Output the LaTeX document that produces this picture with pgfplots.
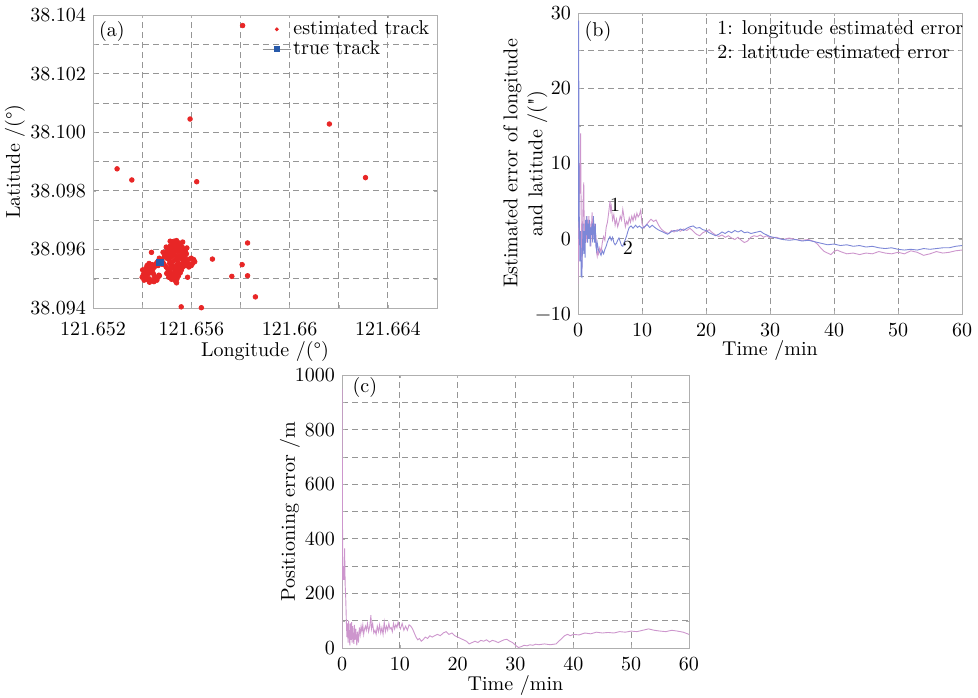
\documentclass[border=0pt]{standalone}
\usepackage{pgfplots}
\pgfplotsset{compat=1.18}

\definecolor{trackred}{RGB}{232,38,38}
\definecolor{trueblue}{RGB}{40,90,170}
\definecolor{lonpink}{RGB}{205,150,205}
\definecolor{latblue}{RGB}{125,135,215}
\definecolor{gridgray}{RGB}{150,150,150}
\definecolor{framegray}{RGB}{175,175,175}

\pgfplotsset{
  panel/.style={
    scale only axis,
    axis line style={framegray},
    grid=both,
    grid style={gridgray, dash pattern=on 3pt off 2pt, line width=0.4pt},
    minor grid style={gridgray, dash pattern=on 3pt off 2pt, line width=0.4pt},
    major tick length=1.5pt, minor tick length=1.5pt,
    tick style={framegray},
    /pgf/number format/assume math mode=true,
    /pgf/number format/1000 sep={},
    tick label style={font=\fontsize{10}{12}\selectfont},
    label style={font=\fontsize{10}{12.5}\selectfont},
  }
}

\begin{document}
\begin{tikzpicture}[font=\fontsize{10}{12}\selectfont]
\path[use as bounding box] (0,0) rectangle (489pt,-348.5pt);

% (a) track: longitude/latitude stored as offsets from 121.652 E / 38.094 N in units of 0.001 deg
\begin{axis}[panel,
  at={(46.5pt,-154pt)}, anchor=south west,
  width=172pt, height=146.5pt,
  xmin=0, xmax=14, ymin=0, ymax=10,
  xtick={0,4,8,12}, xticklabels={121.652,121.656,121.66,121.664},
  xticklabel style={yshift=-3.5pt},
  minor xtick={2,6,10},
  ytick={0,2,4,6,8,10}, yticklabels={38.094,38.096,38.098,38.100,38.102,38.104},
  minor ytick={1,3,5,7,9},
  xlabel={Longitude /(\textdegree)}, ylabel={Latitude /(\textdegree)},
  xlabel style={at={(axis description cs:0.5,-0.147)}, anchor=center},
  ylabel style={at={(axis description cs:-0.227,0.5)}, anchor=center},
  clip=false,
  legend style={draw=none, fill=none, at={(0.99,0.995)}, anchor=north east,
    inner sep=1pt, row sep=-0.5pt, font=\fontsize{10}{12}\selectfont,
    nodes={inner sep=1pt}},
  legend cell align=left,
  legend image code/.code={\draw[mark repeat=2,mark phase=2] plot coordinates {(0cm,0cm) (0.25cm,0cm) (0.5cm,0cm)};},
]
\addplot[only marks, mark=*, mark size=1.15pt, color=trackred,
  legend image post style={mark size=0.75pt}] coordinates {
  % scattered fixes
  (6.09,9.64) (3.95,6.45) (9.62,6.28) (0.98,4.75) (1.58,4.37) (4.22,4.31)
  (11.09,4.45) (6.29,2.22) (4.86,1.67) (6.07,1.48) (5.65,1.08) (6.29,1.10)
  (6.61,0.38) (3.59,0.04) (4.41,0.01) (3.85,1.05) (2.38,1.90)
  % upper lobe of the cluster
  (2.90,1.75) (2.95,1.85) (3.00,1.92) (3.05,2.00) (3.12,2.06) (3.18,2.12)
  (3.25,2.20) (3.30,2.28) (3.38,2.18) (3.45,2.10) (3.50,2.22) (3.57,2.15)
  (3.63,2.08) (3.70,2.00) (3.76,1.94) (3.80,1.85) (3.74,1.76) (3.66,1.82)
  (3.60,1.90) (3.52,1.98) (3.44,1.92) (3.36,2.00) (3.28,2.06) (3.20,1.98)
  (3.13,1.90) (3.07,1.80) (3.00,1.70) (3.10,1.65) (3.20,1.75) (3.28,1.85)
  (3.35,1.78) (3.42,1.70) (3.50,1.78) (3.58,1.70) (3.65,1.65) (3.45,1.60)
  (3.32,1.63) (3.22,1.57) (3.15,2.12) (3.40,2.30) (3.65,2.25) (3.82,2.05)
  (2.98,2.08) (2.85,1.90) (3.14,2.28) (3.55,2.03) (3.30,1.92) (3.18,1.82)
  (3.72,1.88) (3.08,1.95)
  % eastward extension
  (3.70,1.55) (3.80,1.62) (3.90,1.66) (4.00,1.70) (4.10,1.65) (4.14,1.58)
  (4.05,1.52) (3.95,1.48) (3.85,1.50) (3.76,1.45) (3.90,1.40) (4.00,1.45)
  % lower-middle lobe
  (2.90,1.48) (2.98,1.40) (3.05,1.32) (3.12,1.25) (3.18,1.16) (3.25,1.08)
  (3.30,1.00) (3.36,0.92) (3.42,1.00) (3.48,1.10) (3.55,1.20) (3.60,1.30)
  (3.65,1.40) (3.58,1.48) (3.50,1.40) (3.43,1.32) (3.35,1.25) (3.27,1.35)
  (3.20,1.45) (3.12,1.52) (3.00,1.18) (3.08,1.05) (3.20,0.98) (3.32,1.12)
  (3.45,1.20) (3.52,1.30) (3.40,0.86) (3.28,1.18) (3.38,1.45) (3.48,1.52)
  (3.15,1.35)
  % lower-left lobe
  (2.00,1.05) (2.05,1.15) (2.10,1.25) (2.15,1.35) (2.20,1.45) (2.28,1.52)
  (2.35,1.40) (2.40,1.28) (2.45,1.18) (2.50,1.08) (2.55,0.98) (2.48,0.90)
  (2.38,0.95) (2.28,1.00) (2.18,0.98) (2.08,0.95) (2.12,1.08) (2.22,1.15)
  (2.32,1.20) (2.25,1.30) (2.40,1.48) (2.50,1.40) (2.68,1.12) (2.65,1.05)
  (2.60,0.95) (2.70,1.10) (2.02,1.30) (2.30,0.88) (2.45,1.35) (2.55,1.50)
  (2.65,1.45)
  % around the true position
  (2.65,1.60) (2.78,1.65) (2.85,1.55) (2.70,1.70) (2.80,1.50) (2.60,1.55)
};
\addlegendentry{estimated track}
\addplot[color=gridgray, mark=square*, mark size=1.6pt,
  mark options={draw=trueblue, fill=trueblue},
  legend image post style={mark size=1.35pt}] coordinates {(2.73,1.56)};
\addlegendentry{true track}
\node at (rel axis cs:0.055,0.945) {(a)};
\end{axis}

% (b) longitude and latitude estimation errors
\begin{axis}[panel,
  at={(289pt,-157pt)}, anchor=south west,
  width=192pt, height=150.5pt,
  xmin=0, xmax=60, ymin=-10, ymax=30,
  xtick={0,10,...,60}, xticklabel style={yshift=-1pt},
  ytick={-10,0,10,20,30}, yticklabels={\textminus10,0,10,20,30},
  minor ytick={-5,5,15,25},
  xlabel={Time /min},
  ylabel={Estimated error of longitude\\and latitude /(\textquotedbl)},
  xlabel style={at={(axis description cs:0.5,-0.12)}, anchor=center},
  ylabel style={align=center, at={(axis description cs:-0.137,0.5)}, anchor=center},
]
\addplot[color=lonpink, line width=0.45pt] coordinates {
  (0.00,-6.0) (0.05,2) (0.10,-3) (0.20,10) (0.30,6) (0.40,14) (0.50,3)
  (0.60,-4) (0.70,1) (0.80,5) (0.90,7.5) (1.00,-1) (1.10,2) (1.20,0)
  (1.30,3) (1.40,-0.5) (1.50,2.5) (1.60,1) (1.70,3) (1.80,0.5) (1.90,2)
  (2.00,-1) (2.10,1.5) (2.20,3.5) (2.30,1) (2.40,2.5) (2.50,0) (2.60,2)
  (2.70,-0.5) (2.80,0.5) (2.90,-1.8) (3.00,-2.3) (3.10,-1.5) (3.20,-2)
  (3.40,-1.2) (3.60,-1.8) (3.80,-0.5) (4.00,0.3) (4.20,-0.2) (4.40,1.5)
  (4.60,2.2) (4.80,3.5) (5.00,5.0) (5.10,3.8) (5.20,4.3) (5.40,2.5)
  (5.60,3.2) (5.80,1.8) (6.00,2.6) (6.20,1.6) (6.40,2.2) (6.60,3)
  (6.80,2.5) (7.00,3.9) (7.20,2.8) (7.40,1.6) (7.60,2.3) (7.80,1.9)
  (8.00,2.8) (8.20,2.2) (8.40,3.0) (8.60,2.4) (8.80,3.2) (9.00,2.6)
  (9.20,3.4) (9.40,2.9) (9.60,3.2) (9.80,3.8) (10.00,2.0) (10.30,1.4)
  (10.60,1.8) (11.00,2.2) (11.40,2.6) (11.80,2.3) (12.20,2.5) (12.60,1.8)
  (13.00,1.3) (13.40,1.0) (13.80,0.8) (14.20,0.7) (14.60,1.1) (15.00,0.9)
  (15.50,1.2) (16.00,1.0) (16.50,1.3) (17.00,1.1) (17.50,1.4) (18.00,1.0)
  (18.50,0.6) (19.00,0.4) (19.50,0.8) (20.00,1.0) (20.50,1.2) (21.00,0.8)
  (21.50,0.5) (22.00,0.3) (22.50,0.5) (23.00,0.2) (23.50,0.4) (24.00,0.1)
  (24.50,-0.1) (25.00,0.2) (25.50,-0.2) (26.00,-0.5) (26.50,-0.3) (27.00,0.2)
  (27.50,0.4) (28.00,0.3) (28.50,0.5) (29.00,0.2) (29.50,0.4) (30.00,0.1)
  (31.00,0.2) (32.00,-0.1) (33.00,0.1) (34.00,-0.1) (35.00,-0.2) (36.00,-0.1)
  (37.00,-0.4) (37.50,-0.8) (38.00,-1.3) (38.50,-1.7) (39.00,-1.9) (39.50,-2.1)
  (40.00,-1.7) (40.50,-1.5) (41.00,-1.7) (42.00,-2.0) (43.00,-1.9) (44.00,-2.1)
  (45.00,-1.9) (46.00,-2.0) (47.00,-1.7) (48.00,-1.9) (49.00,-2.0) (50.00,-1.8)
  (51.00,-2.0) (52.00,-1.6) (53.00,-1.8) (54.00,-2.2) (55.00,-2.0) (56.00,-1.7)
  (57.00,-1.9) (58.00,-1.8) (59.00,-1.6) (60.00,-1.5)
};
\addplot[color=latblue, line width=0.45pt] coordinates {
  (0.00,0) (0.05,18) (0.10,29) (0.15,12) (0.20,3) (0.30,-3) (0.40,1)
  (0.50,-5) (0.60,-5.1) (0.70,-1) (0.80,2) (0.90,-2) (1.00,1) (1.10,-2.5)
  (1.20,2.5) (1.30,0.5) (1.40,3) (1.50,-0.5) (1.60,2) (1.70,0) (1.80,2.5)
  (1.90,-1) (2.00,1.5) (2.10,0.5) (2.20,2) (2.30,-0.5) (2.40,3) (2.50,1)
  (2.60,-0.5) (2.70,2) (2.80,-1) (2.90,-1.5) (3.00,-0.5) (3.20,-1.5)
  (3.40,-1.8) (3.60,-2.2) (3.80,-1.6) (4.00,-2.0) (4.20,-1.4) (4.40,-1.0)
  (4.60,-0.4) (4.80,0.0) (5.00,0.3) (5.20,-0.2) (5.40,0.2) (5.60,-0.5)
  (5.80,-0.8) (6.00,-0.6) (6.20,-0.2) (6.40,0.1) (6.60,-0.4) (6.80,-0.9)
  (7.00,-1.0) (7.20,-0.5) (7.40,-0.1) (7.60,0.4) (7.80,1.0) (8.00,1.5)
  (8.30,1.7) (8.60,1.4) (9.00,1.8) (9.30,1.5) (9.60,1.7) (10.00,1.4)
  (10.40,1.6) (10.80,1.9) (11.20,1.5) (11.60,1.8) (12.00,1.5) (12.50,1.2)
  (13.00,1.0) (13.50,0.8) (14.00,0.6) (14.50,0.9) (15.00,1.1) (15.50,1.0)
  (16.00,1.3) (16.50,1.1) (17.00,1.4) (17.50,1.6) (18.00,1.7) (18.50,1.4)
  (19.00,1.5) (19.50,1.2) (20.00,1.1) (20.50,0.8) (21.00,0.6) (21.50,0.4)
  (22.00,0.6) (22.50,0.9) (23.00,0.7) (23.50,1.0) (24.00,0.8) (24.50,1.1)
  (25.00,0.9) (25.50,1.1) (26.00,0.8) (26.50,0.9) (27.00,0.7) (27.50,0.8)
  (28.00,0.9) (28.50,1.0) (29.00,0.7) (29.50,0.5) (30.00,0.3) (31.00,0.1)
  (32.00,-0.1) (33.00,-0.2) (34.00,-0.1) (35.00,-0.3) (36.00,-0.2) (37.00,-0.4)
  (38.00,-0.6) (39.00,-0.8) (40.00,-0.7) (41.00,-0.9) (42.00,-0.8) (43.00,-1.0)
  (44.00,-0.9) (45.00,-1.1) (46.00,-1.0) (47.00,-1.2) (48.00,-1.3) (49.00,-1.2)
  (50.00,-1.4) (51.00,-1.5) (52.00,-1.4) (53.00,-1.5) (54.00,-1.3) (55.00,-1.4)
  (56.00,-1.3) (57.00,-1.2) (58.00,-1.2) (59.00,-1.0) (60.00,-0.9)
};
\node at (rel axis cs:0.052,0.94) {(b)};
\node[anchor=north west, align=left, inner sep=0pt] at (rel axis cs:0.362,0.975)
  {1: longitude estimated error\\2: latitude estimated error};
\node at (axis cs:5.8,4.5) {1};
\node at (axis cs:7.8,-1.2) {2};
\end{axis}

% (c) positioning error
\begin{axis}[panel,
  at={(171pt,-324pt)}, anchor=south west,
  width=173.5pt, height=136.5pt,
  xmin=0, xmax=60, ymin=0, ymax=1000,
  xtick={0,10,...,60}, xticklabel style={yshift=-1pt},
  ytick={0,200,...,1000}, minor ytick={100,300,...,900},
  xlabel={Time /min}, ylabel={Positioning error /m},
  xlabel style={at={(axis description cs:0.5,-0.136)}, anchor=center},
  ylabel style={at={(axis description cs:-0.150,0.5)}, anchor=center},
]
\addplot[color=lonpink, line width=0.45pt] coordinates {
  (0.00,0) (0.02,950) (0.05,700) (0.10,400) (0.15,250) (0.25,300) (0.35,250)
  (0.45,365) (0.55,230) (0.65,180) (0.75,100) (0.85,40) (0.95,90) (1.05,20)
  (1.15,100) (1.25,50) (1.35,10) (1.45,90) (1.55,30) (1.65,95) (1.75,20)
  (1.85,80) (1.95,40) (2.05,15) (2.15,85) (2.25,30) (2.40,70) (2.55,10)
  (2.70,60) (2.85,20) (3.00,75) (3.15,50) (3.30,80) (3.45,60) (3.60,85)
  (3.75,50) (3.90,70) (4.05,80) (4.20,65) (4.40,90) (4.60,60) (4.80,80)
  (5.00,120) (5.10,70) (5.30,90) (5.50,55) (5.70,65) (5.90,50) (6.10,80)
  (6.30,60) (6.50,85) (6.70,55) (6.90,75) (7.10,50) (7.30,95) (7.50,60)
  (7.70,80) (7.90,65) (8.10,90) (8.30,70) (8.50,75) (8.70,60) (8.90,90)
  (9.10,70) (9.30,85) (9.50,75) (9.70,95) (9.90,80) (10.10,70) (10.40,90)
  (10.70,65) (11.00,80) (11.30,65) (11.60,85) (11.90,80) (12.20,70) (12.50,55)
  (12.80,40) (13.10,30) (13.40,35) (13.70,25) (14.00,30) (14.40,40) (14.80,35)
  (15.20,45) (15.60,40) (16.00,45) (16.50,50) (17.00,45) (17.50,55) (18.00,60)
  (18.50,50) (19.00,55) (19.50,45) (20.00,40) (20.50,35) (21.00,30) (21.50,25)
  (22.00,15) (22.50,20) (23.00,25) (23.50,20) (24.00,28) (24.50,25) (25.00,30)
  (25.50,22) (26.00,28) (26.50,25) (27.00,20) (27.50,25) (28.00,30) (28.50,32)
  (29.00,25) (29.50,20) (30.00,10) (30.50,2) (31.00,5) (31.50,10) (32.00,8)
  (32.50,12) (33.00,10) (33.50,14) (34.00,12) (35.00,15) (36.00,12) (37.00,15)
  (37.50,25) (38.00,35) (38.50,45) (39.00,50) (39.50,45) (40.00,50) (41.00,48)
  (42.00,55) (43.00,52) (44.00,58) (45.00,55) (46.00,57) (47.00,55) (48.00,60)
  (49.00,58) (50.00,62) (51.00,60) (52.00,65) (53.00,70) (54.00,65) (55.00,62)
  (56.00,60) (57.00,65) (58.00,62) (59.00,58) (60.00,50)
};
\node at (rel axis cs:0.066,0.956) {(c)};
\end{axis}
\end{tikzpicture}
\end{document}
